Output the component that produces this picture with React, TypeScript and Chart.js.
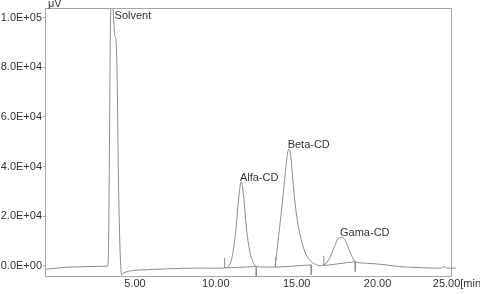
import React, { useEffect, useRef } from "react";
import { Chart, registerables } from "chart.js";

Chart.register(...registerables);

// Chromatogram trace: retention time [min] and detector signal [µV]
const traceTime = [
  -0.5, 0.2, 0.75, 1.5, 2.5, 3.3, 3.36, 3.42, 3.48, 3.54, 3.62, 3.68, 3.74, 3.79, 3.84, 3.9, 3.98, 4.06,
  4.12, 4.17, 4.25, 4.4, 4.6, 4.85, 5.3, 5.9, 7.0, 8.0, 9.0, 10.23, 10.54, 10.85, 11.05, 11.26, 11.4,
  11.57, 11.71, 11.88, 12.08, 12.29, 12.5, 13.0, 13.62, 13.69, 13.83, 14.04, 14.25, 14.4, 14.51, 14.64,
  14.76, 14.97, 15.28, 15.59, 15.9, 16.17, 16.41, 16.66, 16.85, 17.03, 17.34, 17.54, 17.76, 17.96, 18.16,
  18.37, 18.62, 19.3, 20.5, 21.36, 22.5, 23.5, 23.95, 24.1, 24.25, 24.85,
];
const traceSignal = [
  -1450, -1000, -650, -500, -350, -250, 5000, 45000, 95000, 106000, 106000, 100000, 93500, 92300, 90000,
  75000, 34600, 10000, 0, -3800, -3200, -2700, -2300, -2000, -1800, -1600, -1300, -1100, -1000, -1050,
  -930, 280, 5000, 15800, 26500, 33900, 28500, 15800, 6300, 1600, -300, -600, -600, 900, 9000, 21150,
  34600, 43900, 47000, 43900, 34600, 21300, 10400, 4300, 1600, 500, -100, 280, 1200, 3000, 7700, 10650,
  11470, 10650, 7700, 4300, 1600, 970, 300, -400, -800, -1000, -1000, -400, -1000, -1050,
];

// Integration: peak start / end times and baseline levels
const peakStartTime = [10.54, 13.69, 16.68];
const peakStartLevel = [-930, -650, 0];
const peakEndTime = [12.5, 15.9, 18.62];
const peakEndLevel = [-400, 280, 1610];
const markHeight = 4000;

// Peak names and where they are labelled
const peakNames = ["Solvent", "Alfa-CD", "Beta-CD", "Gama-CD"];
const peakLabelTime = [3.8, 11.55, 14.5, 17.74];
const peakLabelSignal = [106000, 33900, 47000, 11470];

// Axis ticks
const xTickValues = [5, 10, 15, 20, 25];
const xTickLabels = ["5.00", "10.00", "15.00", "20.00", "25.00[min]"];
const yTickValues = [0, 20000, 40000, 60000, 80000, 100000];
const yUnit = "μV";

const FONT = '11px "Liberation Sans", Arial, sans-serif';
const TEXT = "#333333";
const LINE = "#8c8c8c";
const FRAME = "#a6a6a6";

function sci(v: number): string {
  if (v === 0) return "0.0E+00";
  const e = Math.floor(Math.log10(Math.abs(v)) + 1e-9);
  const m = v / Math.pow(10, e);
  return m.toFixed(1) + "E" + (e < 0 ? "-" : "+") + String(Math.abs(e)).padStart(2, "0");
}

export default function App() {
  const ref = useRef<HTMLCanvasElement | null>(null);

  useEffect(() => {
    if (!ref.current) return;

    const trace = traceTime.map((t, i) => ({ x: t, y: traceSignal[i] }));
    const baselines: any[] = [];
    const marks: any[] = [];
    peakStartTime.forEach((t, i) => {
      baselines.push({ x: t, y: peakStartLevel[i] });
      baselines.push({ x: peakEndTime[i], y: peakEndLevel[i] });
      baselines.push({ x: peakEndTime[i], y: null });
      marks.push({ x: t, y: peakStartLevel[i] });
      marks.push({ x: t, y: peakStartLevel[i] + markHeight });
      marks.push({ x: t, y: null });
      marks.push({ x: peakEndTime[i], y: peakEndLevel[i] });
      marks.push({ x: peakEndTime[i], y: peakEndLevel[i] - markHeight });
      marks.push({ x: peakEndTime[i], y: null });
    });

    const overlay = {
      id: "overlay",
      afterDraw(chart: any) {
        const { ctx, chartArea } = chart;
        const xs = chart.scales.x;
        const ys = chart.scales.y;
        ctx.save();
        // frame
        ctx.strokeStyle = FRAME;
        ctx.lineWidth = 1;
        ctx.strokeRect(
          Math.round(chartArea.left) - 0.5,
          Math.round(chartArea.top) + 0.5,
          Math.round(chartArea.right - chartArea.left),
          Math.round(chartArea.bottom - chartArea.top)
        );
        ctx.font = FONT;
        ctx.fillStyle = TEXT;
        // x tick labels
        ctx.textAlign = "center";
        ctx.textBaseline = "alphabetic";
        xTickValues.forEach((v, i) => {
          ctx.fillText(xTickLabels[i], xs.getPixelForValue(v), chartArea.bottom + 11);
        });
        // unit
        ctx.textAlign = "left";
        ctx.fillText(yUnit, chartArea.left + 2, chartArea.top - 1.5);
        // peak labels
        peakNames.forEach((name, i) => {
          const px = xs.getPixelForValue(peakLabelTime[i]) - 1;
          const py = Math.max(ys.getPixelForValue(peakLabelSignal[i]), chartArea.top + 12) - 1;
          ctx.fillText(name, px, py);
        });
        ctx.restore();
      },
    };

    const chart = new Chart(ref.current, {
      type: "line",
      data: {
        datasets: [
          {
            data: trace,
            borderColor: LINE,
            borderWidth: 1,
            pointRadius: 0,
            cubicInterpolationMode: "monotone",
            clip: { left: 0, top: 0, right: 4, bottom: 0 } as any,
          },
          {
            data: baselines,
            borderColor: LINE,
            borderWidth: 1,
            pointRadius: 0,
            spanGaps: false,
            tension: 0,
          },
          {
            data: marks,
            borderColor: LINE,
            borderWidth: 1,
            pointRadius: 0,
            spanGaps: false,
            tension: 0,
            clip: { left: 0, top: 0, right: 0, bottom: 1 } as any,
          },
        ],
      },
      options: {
        animation: false,
        responsive: false,
        maintainAspectRatio: false,
        layout: { padding: { top: 8, right: 28, left: 0, bottom: 0 } },
        plugins: { legend: { display: false }, tooltip: { enabled: false } },
        scales: {
          x: {
            type: "linear",
            min: -0.5,
            max: 24.6,
            ticks: { display: false },
            grid: { display: false },
            border: { display: false },
            afterFit: (s: any) => {
              s.height = 18;
            },
          },
          y: {
            type: "linear",
            min: -4200,
            max: 104000,
            afterBuildTicks: (s: any) => {
              s.ticks = yTickValues.map((v) => ({ value: v }));
            },
            afterFit: (s: any) => {
              s.width = 46;
            },
            ticks: {
              padding: 1,
              color: TEXT,
              font: { family: '"Liberation Sans", Arial, sans-serif', size: 11 },
              callback: (v: any) => sci(Number(v)),
            },
            grid: { display: true, drawOnChartArea: false, tickLength: 3, color: FRAME },
            border: { display: false },
          },
        },
      },
      plugins: [overlay],
    });

    return () => chart.destroy();
  }, []);

  return (
    <div style={{ position: "fixed", left: 0, top: 0, width: 480, height: 294, background: "#fff" }}>
      <canvas ref={ref} width={480} height={294} style={{ display: "block" }} />
    </div>
  );
}
